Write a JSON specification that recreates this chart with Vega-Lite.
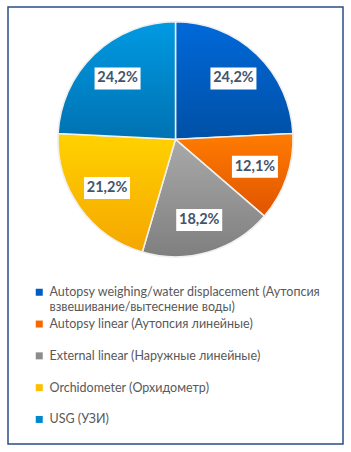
{
  "$schema": "https://vega.github.io/schema/vega-lite/v6.json",
  "width": 351,
  "height": 452,
  "autosize": {"type": "fit", "contains": "padding"},
  "padding": {"top": 7, "left": 8, "right": 8, "bottom": 8},
  "background": "white",
  "config": {"view": {"stroke": "#2B4C8C", "strokeWidth": 1.5}, "font": "Lato"},
  "data": {
    "values": [
      {"ord": 1, "cat": "Autopsy weighing/water displacement (Аутопсия\nвзвешивание/вытеснение воды)", "pct": 24.2},
      {"ord": 2, "cat": "Autopsy linear (Аутопсия линейные)", "pct": 12.1},
      {"ord": 3, "cat": "External linear (Наружные линейные)", "pct": 18.2},
      {"ord": 4, "cat": "Orchidometer (Орхидометр)", "pct": 21.2},
      {"ord": 5, "cat": "USG (УЗИ)", "pct": 24.2}
    ]
  },
  "layer": [
    {
      "mark": {"type": "arc", "outerRadius": 117.5, "stroke": "#f0f0f0", "strokeWidth": 1.5},
      "encoding": {
        "theta": {"field": "pct", "type": "quantitative", "stack": true},
        "order": {"field": "ord", "type": "quantitative"},
        "x": {"datum": 0, "type": "quantitative", "scale": {"domain": [-1.4255, 1.4255], "nice": false, "zero": false}, "axis": null},
        "y": {"datum": 0, "type": "quantitative", "scale": {"domain": [-2.593, 1.126], "nice": false, "zero": false}, "axis": null},
        "color": {
          "field": "cat",
          "type": "nominal",
          "sort": {"field": "ord"},
          "scale": {
            "domain": [
              "Autopsy weighing/water displacement (Аутопсия\nвзвешивание/вытеснение воды)",
              "Autopsy linear (Аутопсия линейные)",
              "External linear (Наружные линейные)",
              "Orchidometer (Орхидометр)",
              "USG (УЗИ)"
            ],
            "range": ["#005CC5", "#F96800", "#8C8C8C", "#FFBF00", "#0088CC"]
          },
          "legend": {
            "title": null,
            "orient": "none",
            "legendX": 25,
            "legendY": 279,
            "direction": "vertical",
            "columns": 1,
            "symbolType": "square",
            "symbolSize": 49,
            "symbolStrokeWidth": 0,
            "labelFont": "Lato",
            "labelFontSize": 12.5,
            "labelColor": "#595959",
            "labelExpr": "split(datum.label, '\\n')",
            "labelLimit": 0,
            "gridAlign": "all",
            "rowPadding": 3.8,
            "labelOffset": 4
          }
        }
      }
    },
    {
      "mark": {"type": "arc", "outerRadius": 117.5, "stroke": "#f0f0f0", "strokeWidth": 1.5},
      "encoding": {
        "theta": {"field": "pct", "type": "quantitative", "stack": true},
        "order": {"field": "ord", "type": "quantitative"},
        "x": {"datum": 0, "type": "quantitative"},
        "y": {"datum": 0, "type": "quantitative"},
        "fill": {
          "condition": [
            {"test": "datum.ord == 1", "value": {"gradient": "linear", "x1": 0, "y1": 0, "x2": 0, "y2": 1, "stops": [{"offset": 0, "color": "#0069D9"}, {"offset": 1, "color": "#0050A6"}]}},
            {"test": "datum.ord == 2", "value": {"gradient": "linear", "x1": 0, "y1": 0, "x2": 0, "y2": 1, "stops": [{"offset": 0, "color": "#FF7C00"}, {"offset": 1, "color": "#E05400"}]}},
            {"test": "datum.ord == 3", "value": {"gradient": "linear", "x1": 0, "y1": 0, "x2": 0, "y2": 1, "stops": [{"offset": 0, "color": "#A9A9A9"}, {"offset": 1, "color": "#7F7F7F"}]}},
            {"test": "datum.ord == 4", "value": {"gradient": "linear", "x1": 0, "y1": 0, "x2": 0, "y2": 1, "stops": [{"offset": 0, "color": "#FFD200"}, {"offset": 1, "color": "#F5A600"}]}}
          ],
          "value": {"gradient": "linear", "x1": 0, "y1": 0, "x2": 0, "y2": 1, "stops": [{"offset": 0, "color": "#009AE2"}, {"offset": 1, "color": "#0072B2"}]}
        }
      }
    },
    {
      "transform": [
        {"joinaggregate": [{"op": "sum", "field": "pct", "as": "total"}]},
        {"window": [{"op": "sum", "field": "pct", "as": "cum"}], "sort": [{"field": "ord"}], "frame": [null, 0]},
        {"calculate": "(datum.cum - datum.pct / 2) / datum.total * 2 * PI", "as": "mid"},
        {"calculate": "0.715 * sin(datum.mid)", "as": "lx"},
        {"calculate": "0.715 * cos(datum.mid)", "as": "ly"}
      ],
      "mark": {"type": "point", "shape": "M-1,-0.478H1V0.478H-1Z", "size": 2116, "filled": true, "fill": "white", "opacity": 1, "strokeWidth": 0},
      "encoding": {
        "x": {"field": "lx", "type": "quantitative"},
        "y": {"field": "ly", "type": "quantitative"}
      }
    },
    {
      "transform": [
        {"joinaggregate": [{"op": "sum", "field": "pct", "as": "total"}]},
        {"window": [{"op": "sum", "field": "pct", "as": "cum"}], "sort": [{"field": "ord"}], "frame": [null, 0]},
        {"calculate": "(datum.cum - datum.pct / 2) / datum.total * 2 * PI", "as": "mid"},
        {"calculate": "0.715 * sin(datum.mid)", "as": "lx"},
        {"calculate": "0.715 * cos(datum.mid)", "as": "ly"},
        {"calculate": "replace(format(datum.pct, '.1f'), '.', ',') + '%'", "as": "lbl"}
      ],
      "mark": {"type": "text", "font": "Lato", "fontWeight": "bold", "fontSize": 14.5, "color": "#44546A"},
      "encoding": {
        "x": {"field": "lx", "type": "quantitative"},
        "y": {"field": "ly", "type": "quantitative"},
        "text": {"field": "lbl", "type": "nominal"}
      }
    }
  ]
}
